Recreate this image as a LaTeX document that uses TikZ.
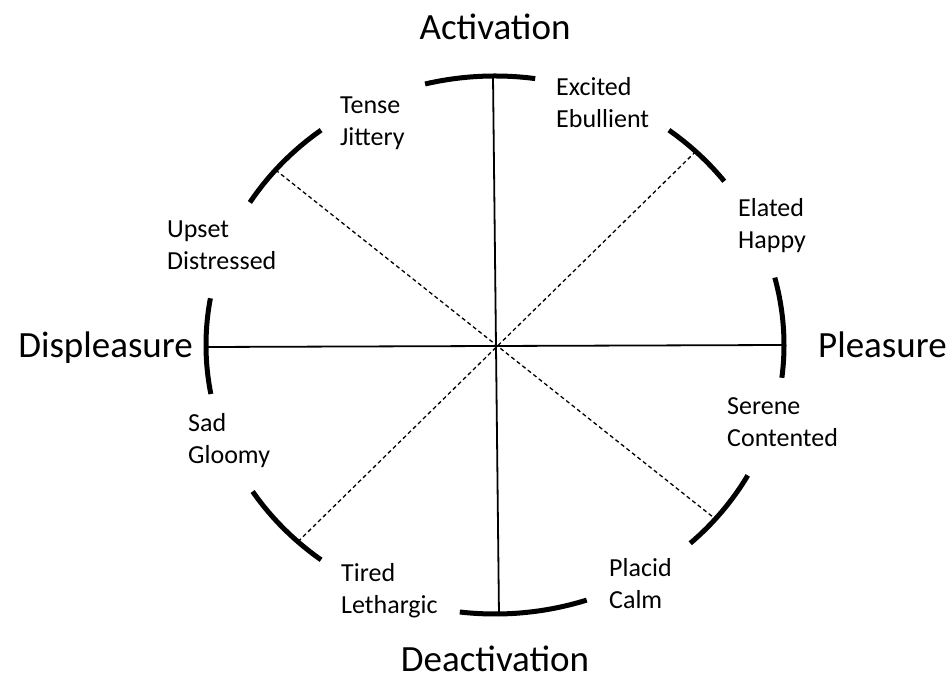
\documentclass[tikz,border=0pt]{standalone}
\usepackage{fontspec}
\setmainfont{Carlito}
\usetikzlibrary{calc}
\newcommand{\twolines}[2]{\begin{tabular}[t]{@{}l@{}}#1\\#2\end{tabular}}
\tikzset{
  arcline/.style={line width=5pt},
  axisline/.style={line width=1.8pt},
  diagline/.style={line width=1.3pt, dash pattern=on 4pt off 3pt},
  mood/.style={anchor=base west, inner sep=0pt, font=\fontsize{26}{32}\selectfont},
  pole/.style={inner sep=0pt, font=\fontsize{37}{44}\selectfont}
}
\begin{document}
\begin{tikzpicture}[x=1pt,y=1pt]
\useasboundingbox (0,0) rectangle (951,688);
\coordinate (c) at (495,343);
\def\rx{289}\def\ry{269}
% arcs
\foreach \a/\b in {82/104, 37.5/53, -7/14.5, -47.5/-29, -97/-71.5, -147/-127, 170/190.5, 127/148}{
  \draw[arcline] ($(c)+(\a:\rx pt and \ry pt)$) arc[start angle=\a, end angle=\b, x radius=\rx pt, y radius=\ry pt];
}
% axis ends
\coordinate (top) at (493,612);
\coordinate (bot) at (499,72);
\coordinate (lft) at (208,341);
\coordinate (rgt) at (783,343);
\draw[axisline] (top) -- (bot);
\draw[axisline] (lft) -- (rgt);
% diagonal ends
\coordinate (ur) at ($(c)+(46:\rx pt and \ry pt)$);
\coordinate (ll) at ($(c)+(-133:\rx pt and \ry pt)$);
\coordinate (ul) at ($(c)+(139.4:\rx pt and \ry pt)$);
\coordinate (lr) at ($(c)+(-40.3:\rx pt and \ry pt)$);
\draw[diagline] (ur) -- (ll);
\draw[diagline] (ul) -- (lr);
% mood labels
\node[mood] (tense) at (340,574) {\twolines{Tense}{Jittery}};
\node[mood] (excited) at (556,592) {\twolines{Excited}{Ebullient}};
\node[mood] (elated) at (738,471) {\twolines{Elated}{Happy}};
\node[mood] (upset) at (167,450) {\twolines{Upset}{Distressed}};
\node[mood] (serene) at (727,273) {\twolines{Serene}{Contented}};
\node[mood] (sad) at (188,256) {\twolines{Sad}{Gloomy}};
\node[mood] (tired) at (341,106) {\twolines{Tired}{Lethargic}};
\node[mood] (placid) at (609,111) {\twolines{Placid}{Calm}};
% poles
\node[pole, anchor=base] (act) at (495,648) {Activation};
\node[pole, anchor=base] (deact) at (495,16) {Deactivation};
\node[pole, anchor=base east] (displ) at (193,330) {Displeasure};
\node[pole, anchor=base west] (pleas) at (818,330) {Pleasure};
\end{tikzpicture}
\end{document}
